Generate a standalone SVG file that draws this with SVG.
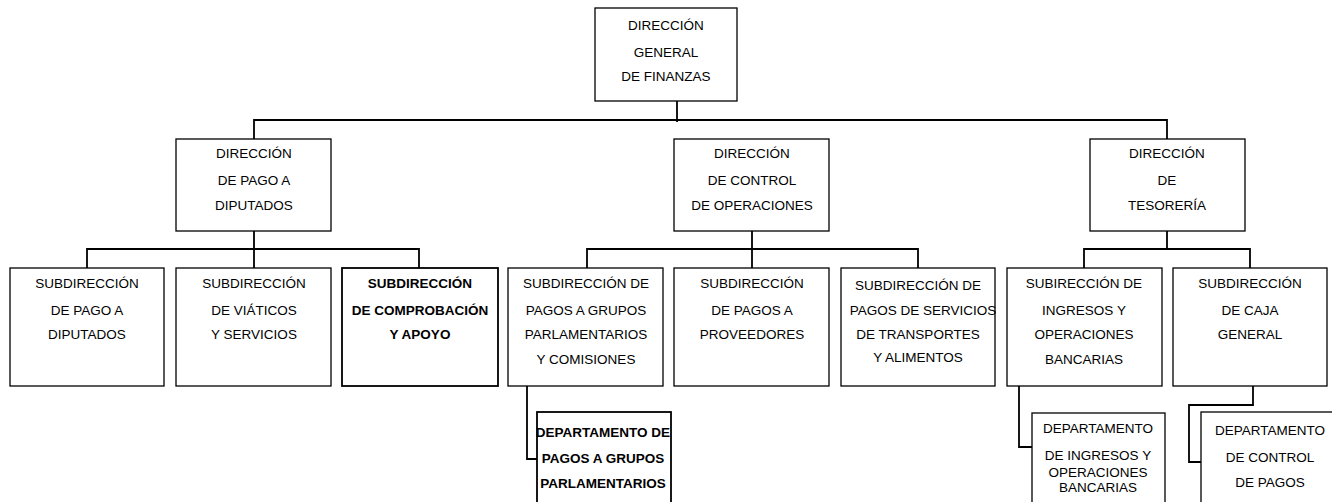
<svg xmlns="http://www.w3.org/2000/svg" width="1332" height="502" viewBox="0 0 1332 502">
<style>
.box{fill:#fff;stroke:#000;stroke-width:1.3}
.bb{fill:#fff;stroke:#000;stroke-width:1.8}
.t{font-family:"Liberation Sans",Arial,sans-serif;font-size:13.5px;fill:#000;text-anchor:middle}
.b{font-weight:bold}
.c{fill:none;stroke:#000;stroke-width:1.8}
</style>
<rect width="1332" height="502" fill="#fff"/>
<g id="connectors">
<path class="c" d="M677 101V122M254 139V120H1167V139"/>
<path class="c" d="M254 231V268M87 268V249H419V268"/>
<path class="c" d="M752 231V268M587 268V249H918V268"/>
<path class="c" d="M1167 231V249M1084 268V249H1250V268"/>
<path class="c" d="M527 386V459H537"/>
<path class="c" d="M1019 386V447H1032"/>
<path class="c" d="M1253 386V405H1189V462H1201"/>
</g>
<g id="n-dgf">
<rect class="box" x="595" y="8" width="142" height="93"/>
<text class="t" x="666" y="30">DIRECCIÓN</text>
<text class="t" x="666" y="57">GENERAL</text>
<text class="t" x="666" y="81">DE FINANZAS</text>
</g>
<g id="n-dpd">
<rect class="box" x="176" y="139" width="155" height="92"/>
<text class="t" x="254" y="158">DIRECCIÓN</text>
<text class="t" x="254" y="185">DE PAGO A</text>
<text class="t" x="254" y="210">DIPUTADOS</text>
</g>
<g id="n-dco">
<rect class="box" x="674" y="139" width="155" height="92"/>
<text class="t" x="752" y="158">DIRECCIÓN</text>
<text class="t" x="752" y="185">DE CONTROL</text>
<text class="t" x="752" y="210">DE OPERACIONES</text>
</g>
<g id="n-dt">
<rect class="box" x="1090" y="139" width="155" height="92"/>
<text class="t" x="1167" y="158">DIRECCIÓN</text>
<text class="t" x="1167" y="185">DE</text>
<text class="t" x="1167" y="210">TESORERÍA</text>
</g>
<g id="n-s1">
<rect class="box" x="10" y="268" width="154" height="118"/>
<text class="t" x="87" y="288">SUBDIRECCIÓN</text>
<text class="t" x="87" y="315">DE PAGO A</text>
<text class="t" x="87" y="339">DIPUTADOS</text>
</g>
<g id="n-s2">
<rect class="box" x="176" y="268" width="155" height="118"/>
<text class="t" x="254" y="288">SUBDIRECCIÓN</text>
<text class="t" x="254" y="315">DE VIÁTICOS</text>
<text class="t" x="254" y="339">Y SERVICIOS</text>
</g>
<g id="n-s3">
<rect class="bb" x="342" y="268" width="156" height="118"/>
<text class="t b" x="420" y="288">SUBDIRECCIÓN</text>
<text class="t b" x="420" y="315">DE COMPROBACIÓN</text>
<text class="t b" x="420" y="339">Y APOYO</text>
</g>
<g id="n-s4">
<rect class="box" x="508" y="268" width="155" height="118"/>
<text class="t" x="586" y="288">SUBDIRECCIÓN DE</text>
<text class="t" x="586" y="315">PAGOS A GRUPOS</text>
<text class="t" x="586" y="339">PARLAMENTARIOS</text>
<text class="t" x="586" y="364">Y COMISIONES</text>
</g>
<g id="n-s5">
<rect class="box" x="674" y="268" width="155" height="118"/>
<text class="t" x="752" y="288">SUBDIRECCIÓN</text>
<text class="t" x="752" y="315">DE PAGOS A</text>
<text class="t" x="752" y="339">PROVEEDORES</text>
</g>
<g id="n-s6">
<rect class="box" x="841" y="268" width="154" height="118"/>
<text class="t" x="918" y="290">SUBDIRECCIÓN DE</text>
<text class="t" x="923" y="315">PAGOS DE SERVICIOS</text>
<text class="t" x="918" y="339">DE TRANSPORTES</text>
<text class="t" x="918" y="362">Y ALIMENTOS</text>
</g>
<g id="n-s7">
<rect class="box" x="1007" y="268" width="155" height="118"/>
<text class="t" x="1084" y="288">SUBIRECCIÓN DE</text>
<text class="t" x="1084" y="315">INGRESOS Y</text>
<text class="t" x="1084" y="339">OPERACIONES</text>
<text class="t" x="1084" y="364">BANCARIAS</text>
</g>
<g id="n-s8">
<rect class="box" x="1173" y="268" width="154" height="118"/>
<text class="t" x="1250" y="288">SUBDIRECCIÓN</text>
<text class="t" x="1250" y="315">DE CAJA</text>
<text class="t" x="1250" y="339">GENERAL</text>
</g>
<g id="n-d1">
<rect class="bb" x="537" y="412" width="134" height="100"/>
<text class="t b" x="603" y="437">DEPARTAMENTO DE</text>
<text class="t b" x="603" y="463">PAGOS A GRUPOS</text>
<text class="t b" x="603" y="488">PARLAMENTARIOS</text>
</g>
<g id="n-d2">
<rect class="box" x="1032" y="413" width="133" height="100"/>
<text class="t" x="1098" y="433">DEPARTAMENTO</text>
<text class="t" x="1098" y="460">DE INGRESOS Y</text>
<text class="t" x="1098" y="477">OPERACIONES</text>
<text class="t" x="1098" y="492">BANCARIAS</text>
</g>
<g id="n-d3">
<rect class="box" x="1201" y="412" width="138" height="100"/>
<text class="t" x="1270" y="435">DEPARTAMENTO</text>
<text class="t" x="1270" y="462">DE CONTROL</text>
<text class="t" x="1270" y="487">DE PAGOS</text>
</g>
</svg>
